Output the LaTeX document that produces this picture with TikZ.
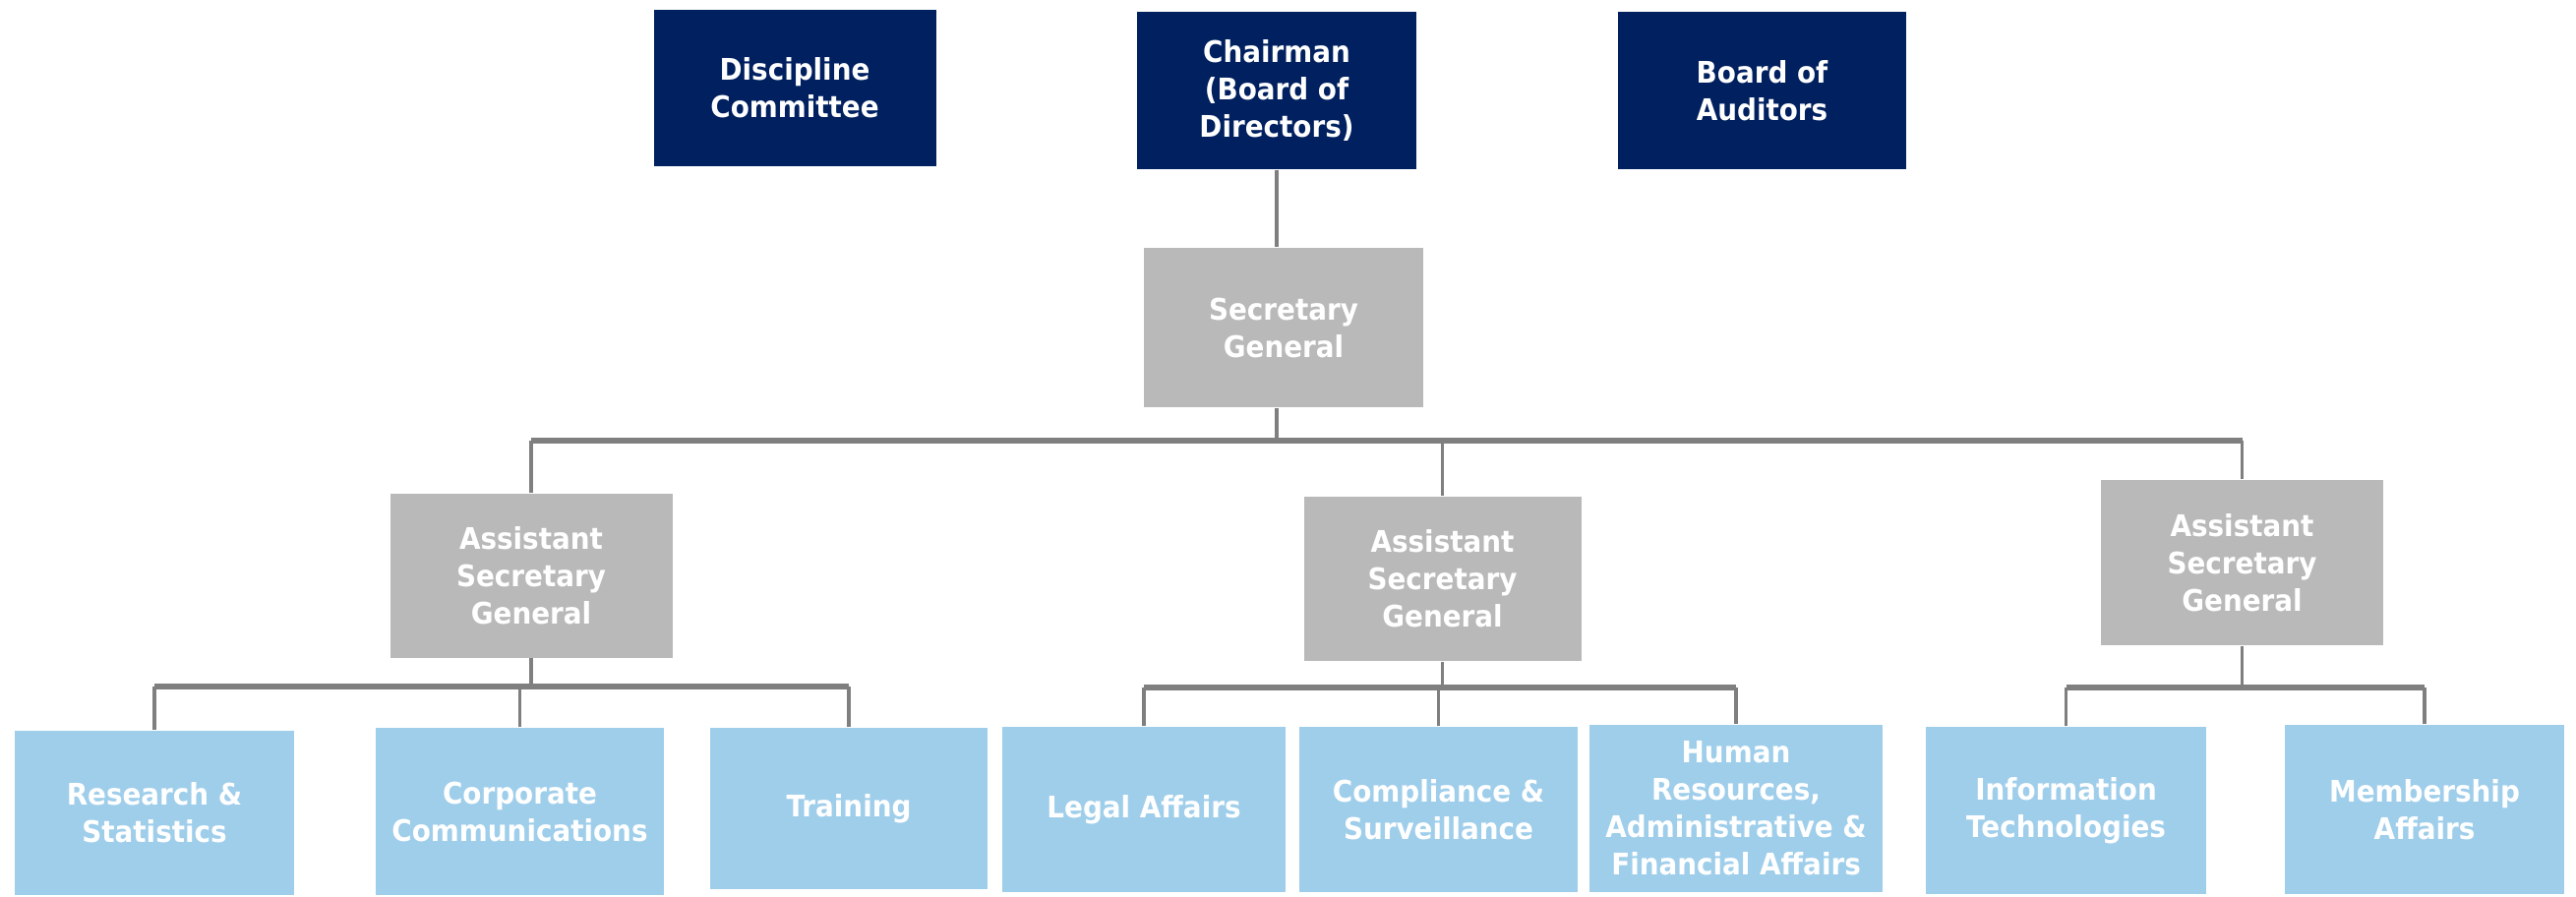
\documentclass[tikz,border=0pt]{standalone}
\usepackage{fontspec}
\setmainfont[FakeStretch=0.92]{DejaVu Sans}
\usepackage{tikz}
\usetikzlibrary{calc}
\definecolor{navy}{HTML}{002060}
\definecolor{sggray}{HTML}{B9B9B9}
\definecolor{unitblue}{HTML}{9FCEEB}
\definecolor{linegray}{HTML}{7F7F7F}
\tikzset{
  box/.style={inner sep=0pt, align=center, text=white,
    font=\fontsize{8.6pt}{10.8pt}\selectfont\bfseries},
  topbox/.style={box, fill=navy},
  sgbox/.style={box, fill=sggray},
  unitbox/.style={box, fill=unitblue},
  link/.style={draw=linegray, line width=1pt},
  bus/.style={draw=linegray, line width=1.5pt}
}
\begin{document}
\begin{tikzpicture}
            \useasboundingbox (0,0) rectangle (26.19,-9.11);
            \node[topbox, minimum width=2.87cm, minimum height=1.59cm] (disc) at (8.08,-0.895) {Discipline\\Committee};
            \node[topbox, minimum width=2.84cm, minimum height=1.60cm] (chair) at (12.98,-0.92) {Chairman\\(Board of\\Directors)};
            \node[topbox, minimum width=2.93cm, minimum height=1.60cm] (audit) at (17.915,-0.92) {Board of\\Auditors};
            \node[sgbox, minimum width=2.84cm, minimum height=1.62cm] (sg) at (13.05,-3.33) {Secretary\\General};
            \node[sgbox, minimum width=2.87cm, minimum height=1.67cm] (asgA) at (5.40,-5.85) {Assistant\\Secretary\\General};
            \node[sgbox, minimum width=2.82cm, minimum height=1.67cm] (asgB) at (14.665,-5.885) {Assistant\\Secretary\\General};
            \node[sgbox, minimum width=2.87cm, minimum height=1.68cm] (asgC) at (22.795,-5.72) {Assistant\\Secretary\\General};
            \node[unitbox, minimum width=2.84cm, minimum height=1.67cm] (research) at (1.57,-8.265) {Research \&\\Statistics};
            \node[unitbox, minimum width=2.93cm, minimum height=1.70cm] (corpcomm) at (5.285,-8.25) {Corporate\\Communications};
            \node[unitbox, minimum width=2.82cm, minimum height=1.64cm] (training) at (8.63,-8.22) {Training};
            \node[unitbox, minimum width=2.88cm, minimum height=1.68cm] (legal) at (11.63,-8.23) {Legal Affairs};
            \node[unitbox, minimum width=2.83cm, minimum height=1.68cm] (compliance) at (14.625,-8.23) {Compliance \&\\Surveillance};
            \node[unitbox, minimum width=2.98cm, minimum height=1.70cm] (hr) at (17.65,-8.22) {Human\\Resources,\\Administrative \&\\Financial Affairs};
            \node[unitbox, minimum width=2.85cm, minimum height=1.70cm] (infotech) at (21.005,-8.24) {Information\\Technologies};
            \node[unitbox, minimum width=2.84cm, minimum height=1.72cm] (member) at (24.65,-8.23) {Membership\\Affairs};
            % bus levels
            \coordinate (busTop) at (12.98,-4.48);
            \coordinate (busA) at (5.40,-6.98);
            \coordinate (busB) at (14.665,-6.99);
            \coordinate (busC) at (22.795,-6.99);
            \draw[link] (chair.south) -- (chair.south |- sg.north);
            \draw[link] (chair.south |- sg.south) -- (busTop);
            \draw[bus] (asgA.north |- busTop) -- (asgC.north |- busTop);
            \draw[link] (asgA.north) -- (asgA.north |- busTop);
            \draw[link] (asgB.north) -- (asgB.north |- busTop);
            \draw[link] (asgC.north) -- (asgC.north |- busTop);
            \draw[link] (asgA.south) -- (busA);
            \draw[link] (asgB.south) -- (busB);
            \draw[link] (asgC.south) -- (busC);
            \draw[bus] (research.north |- busA) -- (training.north |- busA);
            \draw[bus] (legal.north |- busB) -- (hr.north |- busB);
            \draw[bus] (infotech.north |- busC) -- (member.north |- busC);
            \foreach \n in {research,corpcomm,training} \draw[link] (\n.north) -- (\n.north |- busA);
            \foreach \n in {legal,compliance,hr} \draw[link] (\n.north) -- (\n.north |- busB);
            \foreach \n in {infotech,member} \draw[link] (\n.north) -- (\n.north |- busC);
        \end{tikzpicture}
\end{document}
